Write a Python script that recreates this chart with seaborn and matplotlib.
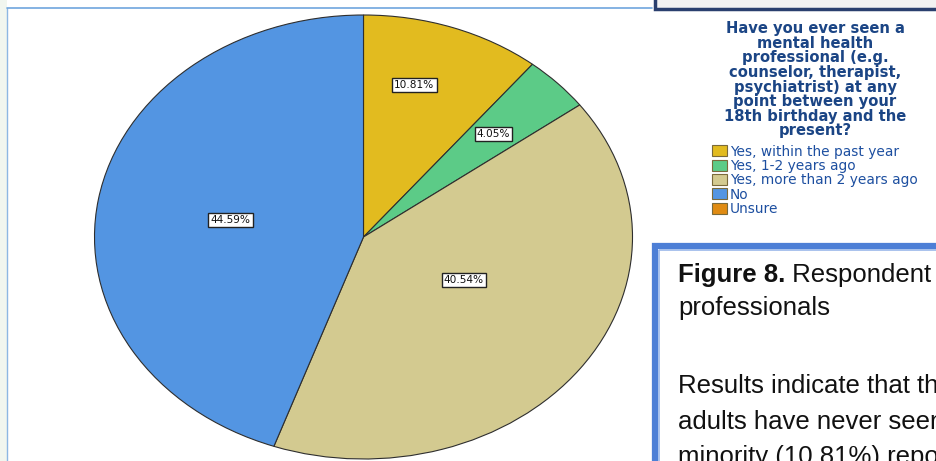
import matplotlib
matplotlib.use("Agg")
import matplotlib.pyplot as plt
from matplotlib.patches import Patch, Rectangle
import numpy as np
import seaborn as sns

categories = ["Yes, within the past year", "Yes, 1-2 years ago",
              "Yes, more than 2 years ago", "No", "Unsure"]
percentages = [10.81, 4.05, 40.54, 44.59, 0.0]
colors = ["#e2bb1f", "#5ccb87", "#d3ca90", "#5395e2", "#e08b12"]
legend_title = ("Have you ever seen a\nmental health\nprofessional (e.g.\n"
                "counselor, therapist,\npsychiatrist) at any\npoint between your\n"
                "18th birthday and the\npresent?")
caption_bold = "Figure 8."
caption_lines = [" Respondent", "professionals", "", "Results indicate that th",
                 "adults have never seen", "minority (10.81%) repo"]

sns.set_theme(style="white")
plt.rcParams["font.family"] = ["DejaVu Sans"]

W, H = 936, 461
fig = plt.figure(figsize=(W / 100, H / 100), dpi=100)
fig.patch.set_facecolor("white")

# background / page decorations (pixel coordinates)
bg = fig.add_axes([0, 0, 1, 1])
bg.set_xlim(0, W)
bg.set_ylim(H, 0)
bg.axis("off")
bg.add_patch(Rectangle((0, 0), 6.5, H, facecolor="#f1f6ef", edgecolor="none"))
bg.plot([7, 7], [8, H], color="#8db7e3", lw=1.0)
bg.plot([7, 652], [8, 8], color="#6fa6de", lw=1.2)
bg.add_patch(Rectangle((655, -10), 300, 19, facecolor="#f2f2f2",
                       edgecolor="#2a3f6e", lw=2.5))
# caption box
bg.add_patch(Rectangle((655, 246), 300, 260, facecolor="white",
                       edgecolor="#4d7fd6", lw=4.5))
bg.add_patch(Rectangle((659, 250), 300, 260, facecolor="none",
                       edgecolor="#9bb8ea", lw=1.2))

cap_font = "Liberation Sans"
t = bg.text(678, 282, caption_bold, fontsize=18.5, fontweight="bold",
            family=cap_font, color="#111111", va="baseline", ha="left")
fig.canvas.draw()
bb = t.get_window_extent()
x_after = bb.x1
bg.text(x_after, H - 282, caption_lines[0], fontsize=18.5, family=cap_font,
        color="#111111", va="baseline", ha="left", transform=None)
baselines = [315, None, 393, 429, 464]
for line, yb in zip(caption_lines[1:], baselines):
    if line:
        bg.text(678, yb, line, fontsize=18.5, family=cap_font,
                color="#111111", va="baseline", ha="left")

# pie axes: ellipse centre (363, 237), rx 269, ry 222
cx, cy, rx, ry = 363.5, 237, 269, 222
pax = fig.add_axes([(cx - rx) / W, (H - cy - ry) / H, 2 * rx / W, 2 * ry / H])
vals = [p for p in percentages if p > 0]
cols = [c for p, c in zip(percentages, colors) if p > 0]
wedges, _ = pax.pie(vals, colors=cols, startangle=90, counterclock=False,
                    radius=1.0, center=(0, 0),
                    wedgeprops=dict(edgecolor="#2e2e2e", linewidth=0.8))
pax.set_aspect("auto")
pax.set_xlim(-1, 1)
pax.set_ylim(-1, 1)
pax.axis("off")

label_r = [0.71, 0.67, 0.42, 0.5]
label_shift = [4, 0, 9, 1]  # small angular nudges (degrees), as in the source
for w, p, r, s in zip(wedges, vals, label_r, label_shift):
    ang = np.deg2rad((w.theta1 + w.theta2) / 2 + s)
    pax.text(r * np.cos(ang), r * np.sin(ang), f"{p:.2f}%", fontsize=7.6,
             ha="center", va="center", color="#111111",
             bbox=dict(boxstyle="square,pad=0.2", facecolor="white",
                       edgecolor="#222222", linewidth=1.0))

# legend
handles = [Patch(facecolor=c, edgecolor="#7a6a3a", linewidth=0.8) for c in colors]
leg = fig.legend(handles, categories, title=legend_title, loc="upper center",
                 bbox_to_anchor=(815 / W, 1 - 21 / H), frameon=False,
                 fontsize=9.9, title_fontsize=10.6, alignment="center",
                 handlelength=1.05, handleheight=0.85, handletextpad=0.25,
                 labelspacing=0.02, borderpad=0, borderaxespad=0)
leg._legend_box.sep = 4.5
leg.get_title().set_fontweight("bold")
leg.get_title().set_color("#1b4585")
leg.get_title().set_linespacing(0.97)
leg.get_title().set_multialignment("center")
for txt in leg.get_texts():
    txt.set_color("#1d4fa0")

fig.savefig("out.png", dpi=100)
